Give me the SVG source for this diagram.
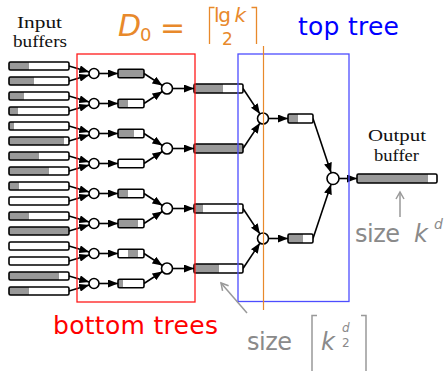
<svg xmlns="http://www.w3.org/2000/svg" width="444" height="371" viewBox="0 0 444 371">
<style>
.buf{fill:none;stroke:#000;stroke-width:1.6}
.bg{fill:#fff}
.g{fill:#999}
.nd{fill:#fff;stroke:#000;stroke-width:1.6}
.c{stroke:#000;stroke-width:1.6;fill:none;marker-end:url(#ah)}
.lab{font-family:"Liberation Serif","DejaVu Serif",serif;font-size:16px;fill:#111;text-anchor:middle}
.sans{font-family:"DejaVu Sans","Liberation Sans",sans-serif}
.or{fill:#e8892b}
.gr{fill:#8a8a8a}
.obr{fill:none;stroke:#e8892b;stroke-width:1.3}
.gbr{fill:none;stroke:#999;stroke-width:1.5}
</style>
<defs>
<marker id="ah" markerWidth="10" markerHeight="8" refX="10" refY="4" orient="auto" markerUnits="userSpaceOnUse"><path d="M0,0 L10,4 L0,8 z" fill="#000"/></marker>
<marker id="gh" markerWidth="10" markerHeight="10" refX="8" refY="5" orient="auto" markerUnits="userSpaceOnUse"><path d="M1,1 L8,5 L1,9" fill="none" stroke="#999" stroke-width="1.5"/></marker>
</defs>

<!-- connectors -->
<g id="connectors">
<line class="c" x1="69" y1="66" x2="89.2" y2="72.1"/><line class="c" x1="69" y1="81" x2="89.2" y2="74.9"/>
<line class="c" x1="69" y1="96" x2="89.2" y2="102.1"/><line class="c" x1="69" y1="111" x2="89.2" y2="104.9"/>
<line class="c" x1="69" y1="126" x2="89.2" y2="132.1"/><line class="c" x1="69" y1="141" x2="89.2" y2="134.9"/>
<line class="c" x1="69" y1="156" x2="89.2" y2="162.1"/><line class="c" x1="69" y1="171" x2="89.2" y2="164.9"/>
<line class="c" x1="69" y1="186" x2="89.2" y2="192.1"/><line class="c" x1="69" y1="201" x2="89.2" y2="194.9"/>
<line class="c" x1="69" y1="216" x2="89.2" y2="222.1"/><line class="c" x1="69" y1="231" x2="89.2" y2="224.9"/>
<line class="c" x1="69" y1="246" x2="89.2" y2="252.1"/><line class="c" x1="69" y1="261" x2="89.2" y2="254.9"/>
<line class="c" x1="69" y1="276" x2="89.2" y2="282.1"/><line class="c" x1="69" y1="291" x2="89.2" y2="284.9"/>
<line class="c" x1="99" y1="73.5" x2="118" y2="73.5"/><line class="c" x1="99" y1="103.5" x2="118" y2="103.5"/>
<line class="c" x1="99" y1="133.5" x2="118" y2="133.5"/><line class="c" x1="99" y1="163.5" x2="118" y2="163.5"/>
<line class="c" x1="99" y1="193.5" x2="118" y2="193.5"/><line class="c" x1="99" y1="223.5" x2="118" y2="223.5"/>
<line class="c" x1="99" y1="253.5" x2="118" y2="253.5"/><line class="c" x1="99" y1="283.5" x2="118" y2="283.5"/>
<line class="c" x1="144" y1="73.5" x2="162.4" y2="85.5"/><line class="c" x1="144" y1="103.5" x2="162.4" y2="91.5"/>
<line class="c" x1="144" y1="133.5" x2="162.4" y2="145.5"/><line class="c" x1="144" y1="163.5" x2="162.4" y2="151.5"/>
<line class="c" x1="144" y1="193.5" x2="162.4" y2="205.5"/><line class="c" x1="144" y1="223.5" x2="162.4" y2="211.5"/>
<line class="c" x1="144" y1="253.5" x2="162.4" y2="265.5"/><line class="c" x1="144" y1="283.5" x2="162.4" y2="271.5"/>
<line class="c" x1="172.5" y1="88.5" x2="194" y2="88.5"/><line class="c" x1="172.5" y1="148.5" x2="194" y2="148.5"/>
<line class="c" x1="172.5" y1="208.5" x2="194" y2="208.5"/><line class="c" x1="172.5" y1="268.5" x2="194" y2="268.5"/>
<line class="c" x1="243" y1="88.5" x2="259.9" y2="113.9"/><line class="c" x1="243" y1="148.5" x2="259.9" y2="123.1"/>
<line class="c" x1="243" y1="208.5" x2="259.9" y2="233.9"/><line class="c" x1="243" y1="268.5" x2="259.9" y2="243.1"/>
<line class="c" x1="268.5" y1="118.5" x2="288" y2="118.5"/><line class="c" x1="268.5" y1="238.5" x2="288" y2="238.5"/>
<line class="c" x1="313" y1="118.5" x2="331.1" y2="172.8"/><line class="c" x1="313" y1="238.5" x2="331.1" y2="184.2"/>
<line class="c" x1="339" y1="178.5" x2="357" y2="178.5"/>
</g>

<!-- input buffers -->
<g id="inputs">
<g id="in1"><rect class="bg" x="9" y="62" width="60" height="8"/><rect class="g" x="9" y="62" width="20" height="8"/><rect class="buf" x="9" y="62" width="60" height="8" rx="1.5"/></g>
<g id="in2"><rect class="bg" x="9" y="77" width="60" height="8"/><rect class="g" x="9" y="77" width="25" height="8"/><rect class="buf" x="9" y="77" width="60" height="8" rx="1.5"/></g>
<g id="in3"><rect class="bg" x="9" y="92" width="60" height="8"/><rect class="g" x="9" y="92" width="15" height="8"/><rect class="buf" x="9" y="92" width="60" height="8" rx="1.5"/></g>
<g id="in4"><rect class="bg" x="9" y="107" width="60" height="8"/><rect class="g" x="9" y="107" width="9" height="8"/><rect class="buf" x="9" y="107" width="60" height="8" rx="1.5"/></g>
<g id="in5"><rect class="bg" x="9" y="122" width="60" height="8"/><rect class="g" x="9" y="122" width="5" height="8"/><rect class="buf" x="9" y="122" width="60" height="8" rx="1.5"/></g>
<g id="in6"><rect class="bg" x="9" y="137" width="60" height="8"/><rect class="g" x="9" y="137" width="55" height="8"/><rect class="buf" x="9" y="137" width="60" height="8" rx="1.5"/></g>
<g id="in7"><rect class="bg" x="9" y="152" width="60" height="8"/><rect class="g" x="9" y="152" width="30" height="8"/><rect class="buf" x="9" y="152" width="60" height="8" rx="1.5"/></g>
<g id="in8"><rect class="bg" x="9" y="167" width="60" height="8"/><rect class="g" x="9" y="167" width="40" height="8"/><rect class="buf" x="9" y="167" width="60" height="8" rx="1.5"/></g>
<g id="in9"><rect class="bg" x="9" y="182" width="60" height="8"/><rect class="g" x="9" y="182" width="10" height="8"/><rect class="buf" x="9" y="182" width="60" height="8" rx="1.5"/></g>
<g id="in10"><rect class="bg" x="9" y="197" width="60" height="8"/><rect class="buf" x="9" y="197" width="60" height="8" rx="1.5"/></g>
<g id="in11"><rect class="bg" x="9" y="212" width="60" height="8"/><rect class="g" x="9" y="212" width="20" height="8"/><rect class="buf" x="9" y="212" width="60" height="8" rx="1.5"/></g>
<g id="in12"><rect class="bg" x="9" y="227" width="60" height="8"/><rect class="g" x="9" y="227" width="60" height="8"/><rect class="buf" x="9" y="227" width="60" height="8" rx="1.5"/></g>
<g id="in13"><rect class="bg" x="9" y="242" width="60" height="8"/><rect class="buf" x="9" y="242" width="60" height="8" rx="1.5"/></g>
<g id="in14"><rect class="bg" x="9" y="257" width="60" height="8"/><rect class="buf" x="9" y="257" width="60" height="8" rx="1.5"/></g>
<g id="in15"><rect class="bg" x="9" y="272" width="60" height="8"/><rect class="g" x="9" y="272" width="50" height="8"/><rect class="buf" x="9" y="272" width="60" height="8" rx="1.5"/></g>
<g id="in16"><rect class="bg" x="9" y="287" width="60" height="8"/><rect class="g" x="9" y="287" width="20" height="8"/><rect class="buf" x="9" y="287" width="60" height="8" rx="1.5"/></g>
</g>

<!-- level 1 merge nodes -->
<g id="merge1">
<g id="m1a"><circle class="nd" cx="94" cy="73.5" r="5"/></g>
<g id="m1b"><circle class="nd" cx="94" cy="103.5" r="5"/></g>
<g id="m1c"><circle class="nd" cx="94" cy="133.5" r="5"/></g>
<g id="m1d"><circle class="nd" cx="94" cy="163.5" r="5"/></g>
<g id="m1e"><circle class="nd" cx="94" cy="193.5" r="5"/></g>
<g id="m1f"><circle class="nd" cx="94" cy="223.5" r="5"/></g>
<g id="m1g"><circle class="nd" cx="94" cy="253.5" r="5"/></g>
<g id="m1h"><circle class="nd" cx="94" cy="283.5" r="5"/></g>
</g>

<!-- level 1 buffers -->
<g id="buf1">
<g id="b1a"><rect class="bg" x="118" y="69.25" width="26" height="8.5"/><rect class="g" x="118" y="69.25" width="26" height="8.5"/><rect class="buf" x="118" y="69.25" width="26" height="8.5" rx="1.5"/></g>
<g id="b1b"><rect class="bg" x="118" y="99.25" width="26" height="8.5"/><rect class="g" x="118" y="99.25" width="10" height="8.5"/><rect class="buf" x="118" y="99.25" width="26" height="8.5" rx="1.5"/></g>
<g id="b1c"><rect class="bg" x="118" y="129.25" width="26" height="8.5"/><rect class="g" x="118" y="129.25" width="16" height="8.5"/><rect class="buf" x="118" y="129.25" width="26" height="8.5" rx="1.5"/></g>
<g id="b1d"><rect class="bg" x="118" y="159.25" width="26" height="8.5"/><rect class="buf" x="118" y="159.25" width="26" height="8.5" rx="1.5"/></g>
<g id="b1e"><rect class="bg" x="118" y="189.25" width="26" height="8.5"/><rect class="g" x="118" y="189.25" width="10" height="8.5"/><rect class="buf" x="118" y="189.25" width="26" height="8.5" rx="1.5"/></g>
<g id="b1f"><rect class="bg" x="118" y="219.25" width="26" height="8.5"/><rect class="g" x="118" y="219.25" width="20" height="8.5"/><rect class="buf" x="118" y="219.25" width="26" height="8.5" rx="1.5"/></g>
<g id="b1g"><rect class="bg" x="118" y="249.25" width="26" height="8.5"/><rect class="g" x="128" y="249.25" width="10" height="8.5"/><rect class="buf" x="118" y="249.25" width="26" height="8.5" rx="1.5"/></g>
<g id="b1h"><rect class="bg" x="118" y="279.25" width="26" height="8.5"/><rect class="g" x="118" y="279.25" width="5" height="8.5"/><rect class="buf" x="118" y="279.25" width="26" height="8.5" rx="1.5"/></g>
</g>

<!-- level 2 merge nodes -->
<g id="merge2">
<g id="m2a"><circle class="nd" cx="167" cy="88.5" r="5.5"/></g>
<g id="m2b"><circle class="nd" cx="167" cy="148.5" r="5.5"/></g>
<g id="m2c"><circle class="nd" cx="167" cy="208.5" r="5.5"/></g>
<g id="m2d"><circle class="nd" cx="167" cy="268.5" r="5.5"/></g>
</g>

<!-- level 2 buffers -->
<g id="buf2">
<g id="b2a"><rect class="bg" x="194" y="84" width="49" height="9"/><rect class="g" x="194" y="84" width="29" height="9"/><rect class="buf" x="194" y="84" width="49" height="9" rx="1.5"/></g>
<g id="b2b"><rect class="bg" x="194" y="144" width="49" height="9"/><rect class="g" x="194" y="144" width="49" height="9"/><rect class="buf" x="194" y="144" width="49" height="9" rx="1.5"/></g>
<g id="b2c"><rect class="bg" x="194" y="204" width="49" height="9"/><rect class="g" x="194" y="204" width="9" height="9"/><rect class="buf" x="194" y="204" width="49" height="9" rx="1.5"/></g>
<g id="b2d"><rect class="bg" x="194" y="264" width="49" height="9"/><rect class="g" x="194" y="264" width="25" height="9"/><rect class="buf" x="194" y="264" width="49" height="9" rx="1.5"/></g>
</g>

<!-- level 3 -->
<g id="merge3">
<g id="m3a"><circle class="nd" cx="263" cy="118.5" r="5.5"/></g>
<g id="m3b"><circle class="nd" cx="263" cy="238.5" r="5.5"/></g>
</g>
<g id="buf3">
<g id="b3a"><rect class="bg" x="288" y="114" width="25" height="9"/><rect class="g" x="288" y="114" width="10" height="9"/><rect class="buf" x="288" y="114" width="25" height="9" rx="1.5"/></g>
<g id="b3b"><rect class="bg" x="288" y="234" width="25" height="9"/><rect class="g" x="288" y="234" width="15" height="9"/><rect class="buf" x="288" y="234" width="25" height="9" rx="1.5"/></g>
</g>

<!-- root -->
<g id="root"><circle class="nd" cx="333" cy="178.5" r="6"/></g>
<g id="output"><rect class="bg" x="357" y="174" width="80" height="9"/><rect class="g" x="357" y="174" width="71" height="9"/><rect class="buf" x="357" y="174" width="80" height="9" rx="1.5"/></g>

<!-- region boxes -->
<g id="regions">
<rect x="77" y="54" width="118" height="248" fill="none" stroke="#ff1a1a" stroke-width="1.3"/>
<rect x="238" y="54" width="111" height="247.5" fill="none" stroke="#4d4dff" stroke-width="1.3"/>
<line x1="263.5" y1="46" x2="263.5" y2="310" stroke="#e8892b" stroke-width="1.2"/>
</g>

<!-- labels -->
<g id="labels">
<text class="lab" x="39.5" y="28" textLength="45" lengthAdjust="spacingAndGlyphs">Input</text>
<text class="lab" x="40" y="47" textLength="54" lengthAdjust="spacingAndGlyphs">buffers</text>
<text class="lab" x="397" y="141" textLength="58" lengthAdjust="spacingAndGlyphs">Output</text>
<text class="lab" x="396.5" y="161" textLength="45" lengthAdjust="spacingAndGlyphs">buffer</text>

<text class="sans" x="298" y="35" font-size="25" fill="#0000ff" textLength="101">top tree</text>
<text class="sans" x="53" y="334" font-size="25" fill="#ff0000" textLength="165">bottom trees</text>

<g class="sans or">
<text x="118" y="36" font-size="30" font-style="italic">D</text>
<text x="140" y="41" font-size="18">0</text>
<text x="160" y="38" font-size="30">=</text>
<text x="214" y="22" font-size="20" textLength="32">lg <tspan font-style="italic">k</tspan></text>
<text x="222" y="45" font-size="17">2</text>
</g>
<polyline class="obr" points="214.5,7.5 209.5,7.5 209.5,44"/>
<polyline class="obr" points="251.5,7.5 256.5,7.5 256.5,44"/>

<g class="sans gr">
<text x="247" y="350" font-size="24" textLength="45">size</text>
<text x="321" y="350" font-size="24" font-style="italic">k</text>
<text x="342" y="332" font-size="12" font-style="italic">d</text>
<text x="342" y="347" font-size="12">2</text>
<text x="355" y="242" font-size="24" textLength="45">size</text>
<text x="414" y="242" font-size="24" font-style="italic">k</text>
<text x="434" y="229" font-size="14" font-style="italic">d</text>
</g>
<polyline class="gbr" points="317,315.5 312,315.5 312,371"/>
<polyline class="gbr" points="361,315.5 366,315.5 366,371"/>
<line x1="247" y1="313" x2="221" y2="283" stroke="#999" stroke-width="1.5" marker-end="url(#gh)"/>
<line x1="400" y1="217" x2="400" y2="192" stroke="#999" stroke-width="1.5" marker-end="url(#gh)"/>
</g>
</svg>
